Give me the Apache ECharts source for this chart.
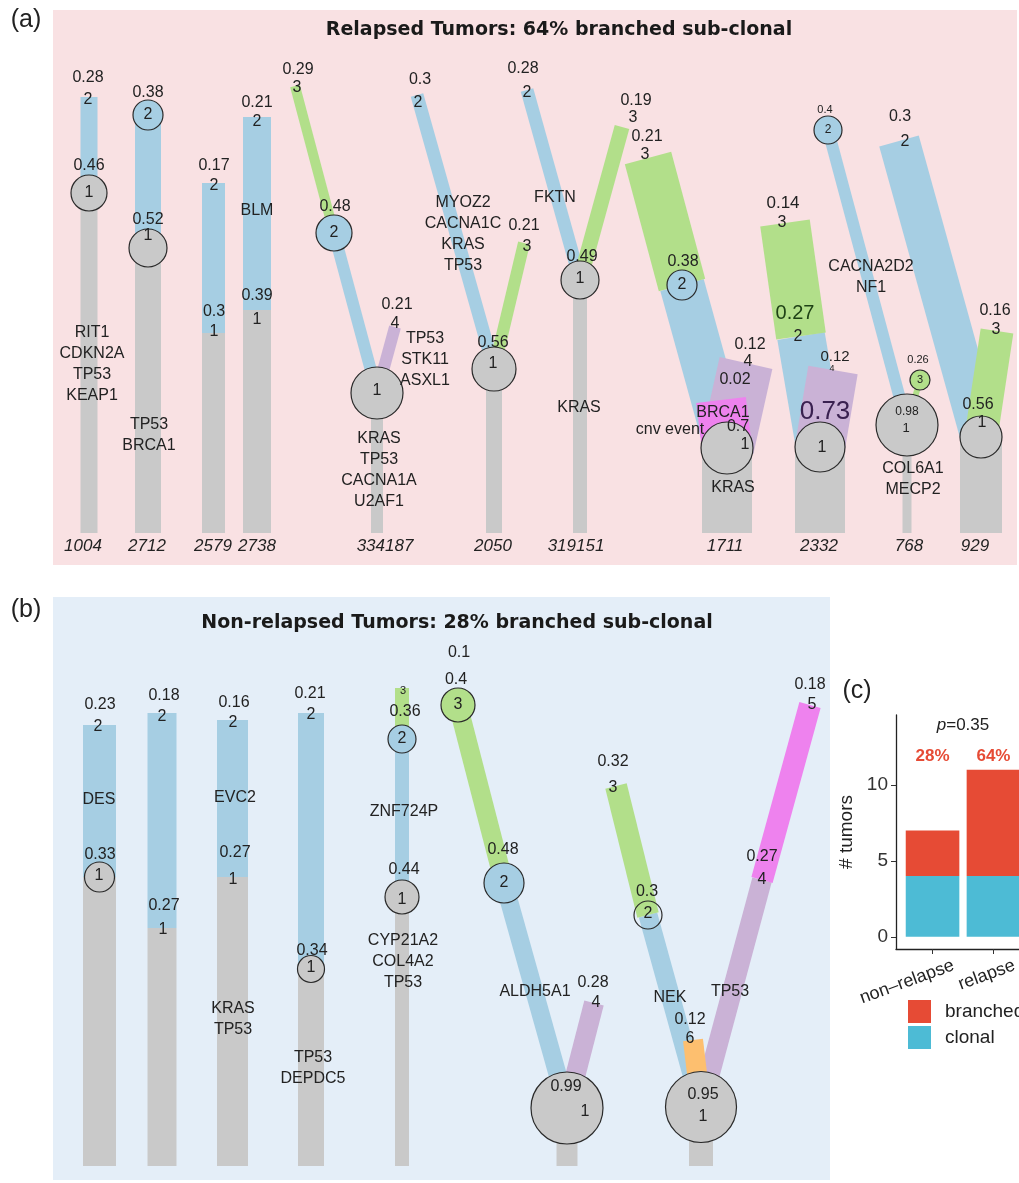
<!DOCTYPE html>
<html>
<head>
<meta charset="utf-8">
<title>Clonal evolution trees</title>
<script src="https://cdn.jsdelivr.net/npm/echarts@6/dist/echarts.min.js"></script>
<style>
  html, body { margin: 0; padding: 0; background: #fff; }
  #main { width: 1019px; height: 1183px; }
</style>
</head>
<body>
<div id="main"></div>
<script>
var FONT = '"Liberation Sans", Arial, Helvetica, sans-serif';
var TITLE_FONT = '"DejaVu Sans", sans-serif';

// colour of each clone, index = clone number
var cloneColors = [null, '#c9c9c9', '#a6cee3', '#b2df8a', '#cab2d6', '#ee82ee', '#fdbf6f'];
var tintColors = ['#222', '#222', '#20405a', '#1f4216', '#3a2150'];

// ---- (a) relapsed tumours ----
var relapsedIds = ['1004', '2712', '2579', '2738', '334187', '2050', '319151', '1711', '2332', '768', '929'];
var relapsedIdX = [83, 147, 213, 257, 385, 493, 576, 725, 819, 909, 975];
var relapsedBase = 533;
// tumour index, clone, parent clone (0 = trunk), cellular fraction
var relapsedClones = [
  [0, 1, 0, '0.46'], [0, 2, 1, '0.28'],
  [1, 1, 0, '0.52'], [1, 2, 1, '0.38'],
  [2, 1, 0, '0.3'], [2, 2, 1, '0.17'],
  [3, 1, 0, '0.39'], [3, 2, 1, '0.21'],
  [4, 1, 0, ''], [4, 2, 1, '0.48'], [4, 3, 2, '0.29'], [4, 4, 1, '0.21'],
  [5, 1, 0, '0.56'], [5, 2, 1, '0.3'], [5, 3, 1, '0.21'],
  [6, 1, 0, '0.49'], [6, 2, 1, '0.28'], [6, 3, 1, '0.19'],
  [7, 1, 0, '0.7'], [7, 2, 1, '0.38'], [7, 3, 2, '0.21'], [7, 4, 1, '0.12'], [7, 5, 1, '0.02'],
  [8, 1, 0, '0.73'], [8, 2, 1, '0.27'], [8, 3, 2, '0.14'], [8, 4, 1, '0.12'],
  [9, 1, 0, '0.98'], [9, 2, 1, '0.4'], [9, 3, 1, '0.26'],
  [10, 1, 0, '0.56'], [10, 2, 1, '0.3'], [10, 3, 1, '0.16']
];
// node x, node y, branch width, circle r, fraction label x/y, clone label x/y, font sizes, tint, hollow
var relapsedLayout = [
  [89, 193, 17, 18, 89, 166, 89, 193, 16, 16, 0], [89, 97, 17, 0, 88, 78, 88, 100, 16, 16, 0],
  [148, 248, 26, 19, 148, 220, 148, 236, 16, 16, 0], [148, 115, 26, 15, 148, 93, 148, 115, 16, 16, 0],
  [213.5, 333, 23, 0, 214, 312, 214, 332, 16, 16, 0], [213.5, 183, 23, 0, 214, 166, 214, 186, 16, 16, 0],
  [257, 310, 28, 0, 257, 296, 257, 320, 16, 16, 0], [257, 117, 28, 0, 257, 103, 257, 122, 16, 16, 0],
  [377, 393, 12, 26, 0, 0, 377, 391, 16, 16, 0], [334, 233, 12, 18, 335, 207, 334, 233, 16, 16, 0],
  [295, 86, 10, 0, 298, 70, 297, 88, 16, 16, 0], [395, 327, 12, 0, 397, 305, 395, 324, 16, 16, 0],
  [494, 369, 16, 22, 493, 343, 493, 364, 16, 16, 0], [417, 95, 13, 0, 420, 80, 418, 103, 16, 16, 0],
  [524, 243, 12, 0, 524, 226, 527, 247, 16, 16, 0],
  [580, 280, 14, 19, 582, 257, 580, 279, 16, 16, 0], [527, 90, 13, 0, 523, 69, 527, 93, 16, 16, 0],
  [622, 127, 15, 0, 636, 101, 633, 118, 16, 16, 0],
  [727, 448, 50, 26, 738, 427, 745, 445, 16, 16, 0], [682, 285, 45, 15, 683, 262, 682, 285, 16, 16, 0],
  [648, 158, 48, 0, 647, 137, 645, 155, 16, 16, 0], [746, 363, 54, 0, 750, 345, 748, 362, 16, 16, 0],
  [721, 400, 50, 0, 735, 380, null, null, 16, 16, 0],
  [820, 447, 50, 25, 825, 412, 822, 448, 26, 16, 4], [801, 336, 48, 0, 795, 313, 798, 337, 20, 16, 3],
  [785, 223, 50, 0, 783, 203, 782, 223, 17, 16, 0], [833, 370, 50, 0, 835, 357, 832, 369, 15, 9, 0],
  [907, 425, 9, 31, 907, 412, 906, 428, 12, 13, 0], [828, 130, 12, 14, 825, 110, 828, 130, 11, 12, 0],
  [920, 380, 6, 10, 918, 360, 920, 380, 11, 11, 0],
  [981, 437, 42, 21, 978, 405, 982, 423, 16, 16, 0], [899, 141, 41, 0, 900, 117, 905, 142, 16, 16, 0],
  [997, 331, 33, 0, 995, 311, 996, 330, 16, 16, 0]
];
var relapsedGenes = [
  ['RIT1', 'CDKN2A', 'TP53', 'KEAP1'], ['TP53', 'BRCA1'], ['BLM'], ['TP53', 'STK11', 'ASXL1'],
  ['KRAS', 'TP53', 'CACNA1A', 'U2AF1'], ['MYOZ2', 'CACNA1C', 'KRAS', 'TP53'], ['FKTN'], ['KRAS'],
  ['BRCA1'], ['cnv event'], ['KRAS'], ['CACNA2D2', 'NF1'], ['COL6A1', 'MECP2']
];
var relapsedGeneAt = [
  [92, 364.5], [149, 435.5], [257, 211], [425, 360], [379, 470], [463, 234], [555, 198], [579, 408],
  [723, 413], [670, 430], [733, 488], [871, 277], [913, 479]
];

// ---- (b) non-relapsed tumours ----
var nonRelapsedBase = 1166;
var nonRelapsedClones = [
  [0, 1, 0, '0.33'], [0, 2, 1, '0.23'],
  [1, 1, 0, '0.27'], [1, 2, 1, '0.18'],
  [2, 1, 0, '0.27'], [2, 2, 1, '0.16'],
  [3, 1, 0, '0.34'], [3, 2, 1, '0.21'],
  [4, 1, 0, '0.44'], [4, 2, 1, '0.36'], [4, 3, 2, ''],
  [5, 1, 0, '0.99'], [5, 2, 1, '0.48'], [5, 3, 2, '0.4'], [5, 4, 1, '0.28'],
  [6, 1, 0, '0.95'], [6, 2, 1, '0.3'], [6, 3, 2, '0.32'], [6, 4, 1, '0.27'], [6, 5, 4, '0.18'], [6, 6, 1, '0.12']
];
var nonRelapsedLayout = [
  [99.5, 877, 33, 15, 100, 855, 99, 876, 16, 16, 0], [99.5, 725, 33, 0, 100, 705, 98, 727, 16, 16, 0],
  [162, 928, 29, 0, 164, 906, 163, 930, 16, 16, 0], [162, 713, 29, 0, 164, 696, 162, 717, 16, 16, 0],
  [232.5, 877, 31, 0, 235, 853, 233, 880, 16, 16, 0], [232.5, 720, 31, 0, 234, 703, 233, 723, 16, 16, 0],
  [311, 969, 26, 13.5, 312, 951, 311, 968, 16, 16, 0], [311, 713, 26, 0, 310, 694, 311, 715, 16, 16, 0],
  [402, 897, 14, 17, 404, 870, 402, 900, 16, 16, 0], [402, 739, 14, 14, 405, 712, 402, 739, 16, 16, 0],
  [402, 688, 14, 0, 0, 0, 403, 691, 16, 11, 0],
  [567, 1108, 21, 36, 566, 1087, 585, 1112, 16, 16, 0], [504, 883, 18, 20, 503, 850, 504, 883, 16, 16, 0],
  [458, 705, 19, 17, 456, 680, 458, 705, 16, 16, 0], [594, 1003, 20, 0, 593, 983, 596, 1003, 16, 16, 0],
  [701, 1107, 24, 35.5, 703, 1095, 703, 1117, 16, 16, 0], [648, 915, 19, 14, 647, 892, 648, 914, 16, 16, 0, 1],
  [616, 786, 22, 0, 613, 762, 613, 788, 16, 16, 0], [762, 880, 20, 0, 762, 857, 762, 880, 16, 16, 0],
  [810, 705, 22, 0, 810, 685, 812, 705, 16, 16, 0], [693, 1040, 20, 0, 690, 1020, 690, 1039, 16, 16, 0]
];
var nonRelapsedGenes = [
  ['DES'], ['EVC2'], ['KRAS', 'TP53'], ['TP53', 'DEPDC5'], ['ZNF724P'], ['CYP21A2', 'COL4A2', 'TP53'],
  ['0.1'], ['ALDH5A1'], ['NEK'], ['TP53']
];
var nonRelapsedGeneAt = [
  [99, 800], [235, 798], [233, 1019], [313, 1068.5], [404, 812], [403, 962],
  [459, 653], [535, 992], [670, 998], [730, 992]
];

// ---- (c) counts ----
var groupsC = ['non\u2013relapse', 'relapse'];
var clonalC = [4, 4];
var branchedC = [3, 7];
var pctC = ['28%', '64%'];
var pLabel = '0.35';
var yTicksC = [0, 5, 10];

// build branch / circle / text marks from the clone tables
var branches = [], circles = [], texts = [];
function buildTree(clones, layout, base) {
  clones.forEach(function (c, i) {
    var L = layout[i], P = null;
    if (c[2] > 0) {
      for (var j = 0; j < clones.length; j++) {
        if (clones[j][0] === c[0] && clones[j][1] === c[2]) P = layout[j];
      }
    }
    branches.push([P ? P[0] : L[0], P ? P[1] : base, L[0], L[1], L[2], c[1]]);
    if (L[3] > 0) circles.push([L[0], L[1], L[3], c[1], L[11] ? 1 : 0]);
    if (c[3]) texts.push({ x: L[4], y: L[5], text: c[3], size: L[8], color: tintColors[L[10]] });
    if (L[6] != null) texts.push({ x: L[6], y: L[7], text: String(c[1]), size: L[9] });
  });
}
buildTree(relapsedClones, relapsedLayout, relapsedBase);
buildTree(nonRelapsedClones, nonRelapsedLayout, nonRelapsedBase);
relapsedGenes.forEach(function (g, i) {
  texts.push({ x: relapsedGeneAt[i][0], y: relapsedGeneAt[i][1], text: g.join('\n'), size: 16, lh: 21 });
});
nonRelapsedGenes.forEach(function (g, i) {
  texts.push({ x: nonRelapsedGeneAt[i][0], y: nonRelapsedGeneAt[i][1], text: g.join('\n'), size: 16, lh: 21 });
});
relapsedIds.forEach(function (id, i) {
  texts.push({ x: relapsedIdX[i], y: 546, text: id, size: 17, italic: true });
});

// stacked bar segments: x, from, to
var clonalBars = clonalC.map(function (v, i) { return [i + 1, 0, v]; });
var branchedBars = branchedC.map(function (v, i) { return [i + 1, clonalC[i], clonalC[i] + v]; });

var cTexts = [];
pctC.forEach(function (p, i) {
  cTexts.push({ x: i + 1, y: 11.85, text: p, size: 17, bold: true, color: '#e64b35' });
});
cTexts.push({ x: 1.5, y: 13.95, text: '{i|p}=' + pLabel, size: 17, rich: { i: { fontStyle: 'italic', fontSize: 17, fontFamily: FONT } } });
groupsC.forEach(function (g, i) {
  cTexts.push({ x: i + 1, y: -0.8, text: g, size: 18, align: 'right', dx: 21, dy: 16, rotate: 20 });
});

function renderBranch(params, api) {
  var a = api.coord([api.value(0), api.value(1)]);
  var b = api.coord([api.value(2), api.value(3)]);
  var half = api.size([api.value(4), 0])[0] / 2;
  var dx = b[0] - a[0], dy = b[1] - a[1];
  var len = Math.sqrt(dx * dx + dy * dy) || 1;
  var nx = -dy / len * half, ny = dx / len * half;
  return {
    type: 'polygon',
    shape: { points: [[a[0] + nx, a[1] + ny], [b[0] + nx, b[1] + ny], [b[0] - nx, b[1] - ny], [a[0] - nx, a[1] - ny]] },
    style: { fill: cloneColors[api.value(5)] }
  };
}
function renderCircle(params, api) {
  var c = api.coord([api.value(0), api.value(1)]);
  var r = api.size([api.value(2), 0])[0];
  return {
    type: 'circle',
    shape: { cx: c[0], cy: c[1], r: r },
    style: { fill: api.value(4) ? 'none' : cloneColors[api.value(3)], stroke: '#2a2a2a', lineWidth: 1.2 }
  };
}
function renderBar(params, api) {
  var lo = api.coord([api.value(0), api.value(1)]);
  var hi = api.coord([api.value(0), api.value(2)]);
  var w = api.size([0.88, 0])[0];
  return {
    type: 'rect',
    shape: { x: lo[0] - w / 2, y: hi[1], width: w, height: lo[1] - hi[1] },
    style: api.style()
  };
}
function textRenderer(list) {
  return function (params, api) {
    var t = list[params.dataIndex];
    var p = api.coord([api.value(0), api.value(1)]);
    return {
      type: 'text',
      x: p[0] + (t.dx || 0), y: p[1] + (t.dy || 0),
      rotation: (t.rotate || 0) * Math.PI / 180,
      style: {
        text: t.text, fill: t.color || '#222', fontSize: t.size, fontFamily: FONT,
        fontStyle: t.italic ? 'italic' : 'normal', fontWeight: t.bold ? 'bold' : 'normal',
        align: t.align || 'center', verticalAlign: 'middle',
        textAlign: t.align || 'center', textVerticalAlign: 'middle',
        lineHeight: t.lh, rich: t.rich
      }
    };
  };
}

var chart = echarts.init(document.getElementById('main'));
chart.setOption({
  animation: false,
  backgroundColor: '#fff',
  graphic: [
    { type: 'rect', z: -10, shape: { x: 53, y: 10, width: 964, height: 555 }, style: { fill: '#f9e1e3' } },
    { type: 'rect', z: -10, shape: { x: 53, y: 597, width: 777, height: 583 }, style: { fill: '#e4eef8' } },
    { type: 'text', x: 26, y: 20, style: { text: '(a)', fontSize: 25, fontFamily: FONT, fill: '#222', align: 'center', verticalAlign: 'middle', textAlign: 'center', textVerticalAlign: 'middle' } },
    { type: 'text', x: 26, y: 610, style: { text: '(b)', fontSize: 25, fontFamily: FONT, fill: '#222', align: 'center', verticalAlign: 'middle', textAlign: 'center', textVerticalAlign: 'middle' } },
    { type: 'text', x: 857, y: 691, style: { text: '(c)', fontSize: 25, fontFamily: FONT, fill: '#222', align: 'center', verticalAlign: 'middle', textAlign: 'center', textVerticalAlign: 'middle' } },
    { type: 'text', x: 559, y: 30, style: { text: 'Relapsed Tumors: 64% branched sub-clonal', fontSize: 19, fontWeight: 'bold', fontFamily: TITLE_FONT, fill: '#1a1a1a', align: 'center', verticalAlign: 'middle', textAlign: 'center', textVerticalAlign: 'middle' } },
    { type: 'text', x: 457, y: 623, style: { text: 'Non-relapsed Tumors: 28% branched sub-clonal', fontSize: 19, fontWeight: 'bold', fontFamily: TITLE_FONT, fill: '#1a1a1a', align: 'center', verticalAlign: 'middle', textAlign: 'center', textVerticalAlign: 'middle' } }
  ],
  legend: {
    data: ['branched', 'clonal'], orient: 'vertical', left: 908, top: 1000, padding: 0,
    itemWidth: 23, itemHeight: 23, itemGap: 3, icon: 'rect', selectedMode: false,
    textStyle: { fontSize: 19, fontFamily: FONT, color: '#222', padding: [0, 0, 0, 9] }
  },
  grid: [
    { left: 0, top: 0, width: 1019, height: 1183, outerBoundsMode: 'none' },
    { left: 896, top: 715, width: 134, height: 234, outerBoundsMode: 'none' }
  ],
  xAxis: [
    { type: 'value', gridIndex: 0, min: 0, max: 1019, show: false },
    {
      type: 'value', gridIndex: 1, min: 0.4, max: 2.6,
      axisLine: { show: true, onZero: false, lineStyle: { color: '#222', width: 1.3 } },
      axisTick: { show: true, customValues: [1, 2], length: 5, lineStyle: { color: '#333' } },
      axisLabel: { show: false },
      splitLine: { show: false }
    }
  ],
  yAxis: [
    { type: 'value', gridIndex: 0, min: 0, max: 1183, inverse: true, show: false },
    {
      type: 'value', gridIndex: 1, min: -0.8, max: 14.6,
      name: '# tumors', nameLocation: 'middle', nameGap: 40, nameRotate: 90,
      nameTextStyle: { fontSize: 19, fontFamily: FONT, color: '#222' },
      axisLine: { show: true, onZero: false, lineStyle: { color: '#222', width: 1.3 } },
      axisTick: { show: true, customValues: yTicksC, length: 5, lineStyle: { color: '#333' } },
      axisLabel: { customValues: yTicksC, fontSize: 19, fontFamily: FONT, color: '#333', margin: 8 },
      splitLine: { show: false }
    }
  ],
  series: [
    { type: 'custom', xAxisIndex: 0, yAxisIndex: 0, clip: false, silent: true, z: 2, renderItem: renderBranch, data: branches },
    { type: 'custom', xAxisIndex: 0, yAxisIndex: 0, clip: false, silent: true, z: 3, renderItem: renderCircle, data: circles },
    {
      type: 'custom', xAxisIndex: 0, yAxisIndex: 0, clip: false, silent: true, z: 4,
      renderItem: textRenderer(texts), data: texts.map(function (t) { return [t.x, t.y]; })
    },
    {
      name: 'clonal', type: 'custom', xAxisIndex: 1, yAxisIndex: 1, clip: false, silent: true,
      itemStyle: { color: '#4dbbd5' }, renderItem: renderBar, data: clonalBars
    },
    {
      name: 'branched', type: 'custom', xAxisIndex: 1, yAxisIndex: 1, clip: false, silent: true,
      itemStyle: { color: '#e64b35' }, renderItem: renderBar, data: branchedBars
    },
    {
      type: 'custom', xAxisIndex: 1, yAxisIndex: 1, clip: false, silent: true, z: 4,
      renderItem: textRenderer(cTexts), data: cTexts.map(function (t) { return [t.x, t.y]; })
    }
  ]
});
</script>
</body>
</html>
